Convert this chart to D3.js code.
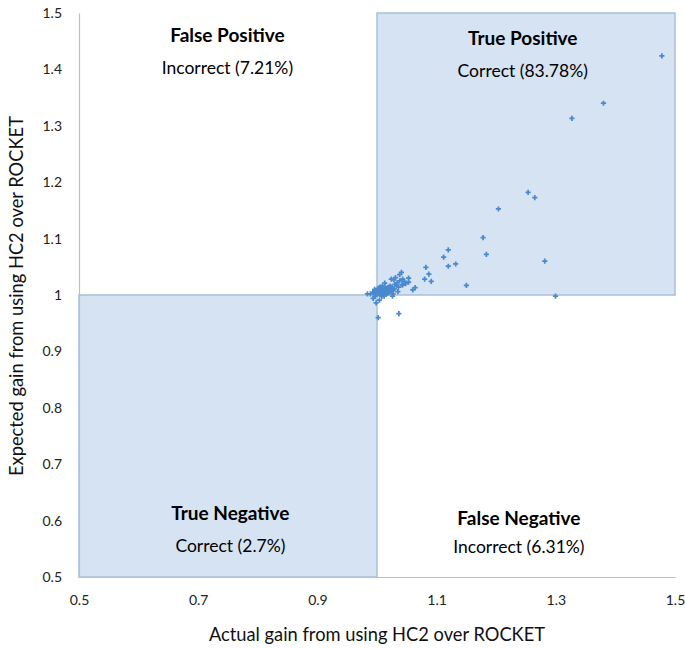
<!DOCTYPE html>
<html><head><meta charset="utf-8">
<script src="https://cdn.jsdelivr.net/npm/d3@7"></script>
<style>body{margin:0;background:#fff;} text{font-family:Lato,"Open Sans",sans-serif;}</style>
</head><body>
<svg id="c" width="685" height="648"></svg>
<script>
const xTicks = [0.5, 0.7, 0.9, 1.1, 1.3, 1.5];
const yTicks = [0.5, 0.6, 0.7, 0.8, 0.9, 1, 1.1, 1.2, 1.3, 1.4, 1.5];
const actualGain = [
  1.478, 1.380, 1.327, 1.2535, 1.2647, 1.2037, 1.178, 1.1835, 1.2815, 1.1196, 1.1118, 1.1196, 1.132, 1.150,
  1.082, 1.087, 1.080, 1.091, 1.064, 1.060, 1.053, 1.053, 1.043, 1.042, 1.041, 1.038, 1.031, 1.028, 1.024, 1.038,
  1.043, 1.033, 1.013, 1.019, 1.022, 1.026, 1.017, 1.015, 1.011, 1.009, 1.007, 1.005, 1.003, 1.002, 1.004, 1.006,
  1.008, 1.010, 1.012, 1.014, 1.016, 1.018, 1.020, 1.021, 1.023, 1.025, 1.027, 1.029, 1.001, 1.003, 1.005, 1.007,
  1.009, 1.011, 1.013, 1.015, 1.017, 1.019, 1.002, 1.004, 1.006, 1.008, 1.010, 1.012, 1.014, 1.016, 1.018, 1.020,
  1.022, 1.024, 1.001, 1.003, 1.005, 1.009, 1.011, 1.013, 1.030, 1.034, 1.036, 1.046, 1.048, 1.035, 1.027,
  0.984, 0.989, 0.995, 0.997, 0.998, 0.996, 0.999, 0.993,
  0.9936, 0.9986, 0.997,
  1.002, 1.0367, 1.2995, 1.026, 1.008, 1.012, 1.004
];
const expectedGain = [
  1.424, 1.340, 1.313, 1.182, 1.1725, 1.1525, 1.1016, 1.072, 1.060, 1.080, 1.067, 1.051, 1.055, 1.017,
  1.049, 1.037, 1.028, 1.024, 1.013, 1.009, 1.030, 1.023, 1.028, 1.018, 1.040, 1.036, 1.031, 1.027, 1.028, 1.025,
  1.018, 1.017, 1.021, 1.004, 1.012, 1.009, 1.006, 1.010, 1.008, 1.012, 1.005, 1.009, 1.007, 1.003, 1.011, 1.004,
  1.010, 1.006, 1.003, 1.008, 1.005, 1.013, 1.007, 1.015, 1.010, 1.014, 1.008, 1.011, 1.006, 1.002, 1.013, 1.009,
  1.002, 1.005, 1.015, 1.007, 1.003, 1.010, 1.009, 1.013, 1.001, 1.004, 1.002, 1.007, 1.011, 1.002, 1.009, 1.004,
  1.016, 1.006, 1.011, 1.008, 1.014, 1.016, 1.001, 1.006, 1.019, 1.022, 1.014, 1.024, 1.020, 1.006, 1.002,
  1.002, 1.002, 1.005, 1.008, 1.003, 1.010, 1.006, 1.004,
  0.994, 0.986, 0.998,
  0.960, 0.967, 0.998, 0.998, 0.997, 0.998, 0.991
];
const quadrantTitles = ["False Positive", "True Positive", "True Negative", "False Negative"];
const quadrantNotes = ["Incorrect (7.21%)", "Correct (83.78%)", "Correct (2.7%)", "Incorrect (6.31%)"];
const titleX = [0.749, 1.2445, 0.754, 1.238];
const titleY = [1.4574, 1.452, 0.610, 0.601];
const noteY = [1.399, 1.394, 0.553, 0.551];

const svg = d3.select("#c");
const mLeft = 79, mRight = 675, mTop = 13, mBottom = 577;
const x = d3.scaleLinear().domain([0.5, 1.5]).range([mLeft, mRight]);
const y = d3.scaleLinear().domain([0.5, 1.5]).range([mBottom, mTop]);

// shaded quadrants
const shaded = [[1, 1.5, 1, 1.5], [0.5, 1, 0.5, 1]];
svg.selectAll("rect.q").data(shaded).enter().append("rect")
  .attr("x", d => x(d[0])).attr("width", d => x(d[1]) - x(d[0]))
  .attr("y", d => y(d[3])).attr("height", d => y(d[2]) - y(d[3]))
  .attr("fill", "#d5e3f2").attr("stroke", "#a7c1dc").attr("stroke-width", 1.5);

// axes
const xAxis = svg.append("g").attr("transform", `translate(0,${mBottom})`)
  .call(d3.axisBottom(x).tickValues(xTicks).tickSize(0).tickPadding(18).tickFormat(d3.format("")));
const yAxis = svg.append("g").attr("transform", `translate(${mLeft},0)`)
  .call(d3.axisLeft(y).tickValues(yTicks).tickSize(0).tickPadding(17).tickFormat(d3.format("")));
[xAxis, yAxis].forEach(a => {
  a.select(".domain").attr("stroke", "#bfbfbf").attr("stroke-width", 1.2);
  a.selectAll("text").attr("font-size", 14).attr("fill", "#222").style("font-family", "Lato, 'Open Sans', sans-serif");
});

// points
const pts = actualGain.map((v, i) => ({ a: v, e: expectedGain[i] }));
svg.append("g").selectAll("path").data(pts).enter().append("path")
  .attr("d", d3.symbol().type(d3.symbolCross).size(15))
  .attr("transform", d => `translate(${x(d.a)},${y(d.e)})`)
  .attr("fill", "#4a89cf");

// quadrant labels
quadrantTitles.forEach((t, i) => {
  svg.append("text").attr("x", x(titleX[i])).attr("y", y(titleY[i]))
    .attr("text-anchor", "middle").attr("dominant-baseline", "middle")
    .attr("font-size", 19).attr("font-weight", "bold").attr("fill", "#000").text(t);
  svg.append("text").attr("x", x(titleX[i])).attr("y", y(noteY[i]))
    .attr("text-anchor", "middle").attr("dominant-baseline", "middle")
    .attr("font-size", 17.5).attr("fill", "#000").text(quadrantNotes[i]);
});

// axis titles
svg.append("text").attr("x", (mLeft + mRight) / 2).attr("y", 636).attr("text-anchor", "middle")
  .attr("dominant-baseline", "middle").attr("font-size", 18.3).attr("fill", "#111")
  .text("Actual gain from using HC2 over ROCKET");
svg.append("text").attr("transform", `translate(18,296) rotate(-90)`)
  .attr("text-anchor", "middle").attr("dominant-baseline", "middle").attr("font-size", 18.3).attr("fill", "#111")
  .text("Expected gain from using HC2 over ROCKET");
</script>
</body></html>
